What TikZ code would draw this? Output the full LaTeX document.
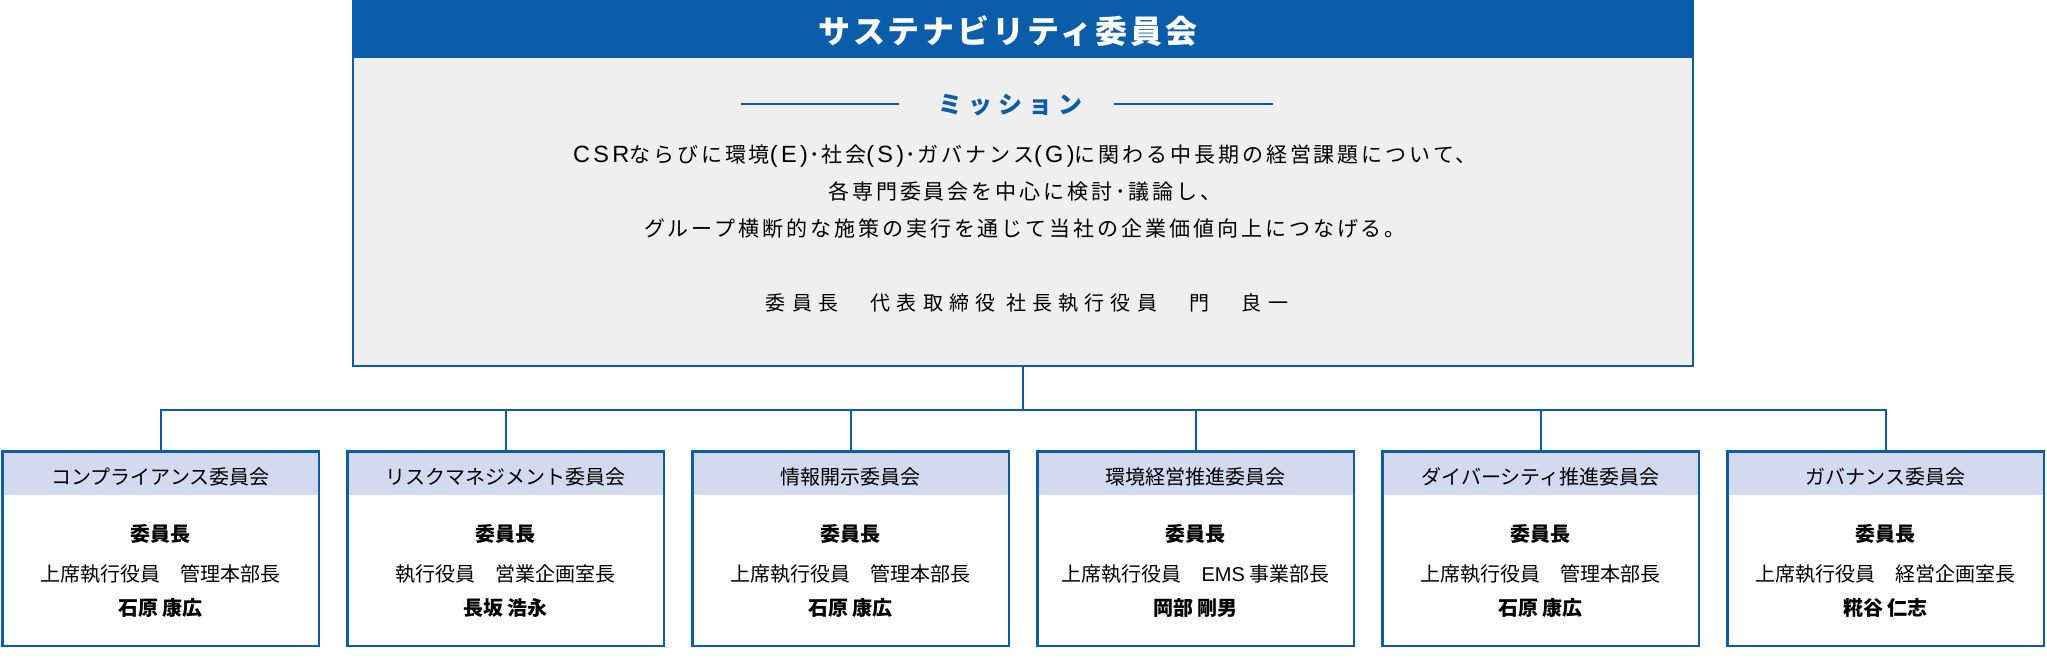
\documentclass[tikz,border=0pt]{standalone}
\usepackage{fontspec}
\setmainfont{Noto Sans CJK JP}
\newfontfamily\lat{Liberation Sans}
\definecolor{hdblue}{HTML}{0C5DA9}
\definecolor{lav}{HTML}{D3D9EE}
\definecolor{bodygray}{HTML}{EFEFEF}
\newcommand\ttlfont{\fontsize{32}{32}\selectfont\bfseries\addfontfeature{LetterSpace=9}}
\newcommand\misfont{\fontsize{24}{24}\selectfont\bfseries\addfontfeature{LetterSpace=25}}
\newcommand\bodyfont{\fontsize{21}{21}\selectfont\addfontfeature{LetterSpace=14}}
\newcommand\chairfont{\fontsize{20}{20}\selectfont\addfontfeature{LetterSpace=31}}
\newcommand\subfont{\fontsize{20}{20}\selectfont}
\newcommand\lt[1]{{\lat\fontsize{23.5}{23.5}\selectfont\addfontfeature{LetterSpace=14}#1}}
\newcommand\md{\hspace{1.5pt}･\hspace{1.5pt}}
\begin{document}
\begin{tikzpicture}[x=1pt,y=-1pt,
  topbox/.style={draw=hdblue,line width=2pt,fill=bodygray,minimum width=1340pt,minimum height=365pt,inner sep=0pt,
    path picture={\fill[hdblue] (path picture bounding box.north west) rectangle ([yshift=-57pt]path picture bounding box.north east);}},
  subbox/.style={draw=hdblue,line width=2.5pt,fill=white,minimum width=316.5pt,minimum height=194.5pt,inner sep=0pt,
    path picture={\fill[lav] (path picture bounding box.north west) rectangle ([yshift=-44pt]path picture bounding box.north east);}},
  txt/.style={anchor=base,inner sep=0pt},
  conn/.style={draw=hdblue,line width=2pt},
  misline/.style={draw=hdblue,line width=2pt}]
\useasboundingbox (0,0) rectangle (2047,661);
\node[topbox] (top) at (1023,183.5) {};
\node[txt,text=white] (title) at (1008,44) {\ttlfont サステナビリティ委員会};
\node[txt,text=hdblue] (mission) at (1010,113) {\misfont ミッション};
\coordinate (ml1) at (741,104); \coordinate (ml2) at (899,104);
\coordinate (mr1) at (1114,104); \coordinate (mr2) at (1273,104);
\draw[misline] (ml1) -- (ml2);
\draw[misline] (mr1) -- (mr2);
\node[txt] (l1) at (1025,162) {\bodyfont \lt{CSR}ならびに環境\lt{(E)}\md 社会\lt{(S)}\md ガバナンス\lt{(G)}に関わる中長期の経営課題について、};
\node[txt] (l2) at (1025,199) {\bodyfont 各専門委員会を中心に検討･議論し、};
\node[txt] (l3) at (1025,236) {\bodyfont グループ横断的な施策の実行を通じて当社の企業価値向上につなげる。};
\node[txt] (chair) at (1027,310) {\chairfont 委員長　代表取締役 社長執行役員　門　良一};
\foreach \i/\x/\hd/\role/\who in {
  1/160.5/コンプライアンス委員会/上席執行役員　管理本部長/石原 康広,
  2/505.5/リスクマネジメント委員会/執行役員　営業企画室長/長坂 浩永,
  3/850.5/情報開示委員会/上席執行役員　管理本部長/石原 康広,
  4/1195.5/環境経営推進委員会/上席執行役員　{\lat EMS} 事業部長/岡部 剛男,
  5/1540.5/ダイバーシティ推進委員会/上席執行役員　管理本部長/石原 康広,
  6/1885.5/ガバナンス委員会/上席執行役員　経営企画室長/糀谷 仁志}{
  \node[subbox] (b\i) at (\x,548.5) {};
  \node[txt] (h\i) at (\x,484) {\subfont \hd};
  \node[txt] (c\i) at (\x,541) {\subfont\bfseries 委員長};
  \node[txt] (r\i) at (\x,581) {\subfont \role};
  \node[txt] (n\i) at (\x,615) {\subfont\bfseries \who};
}
\coordinate (bus) at (0,410);
\draw[conn] (top.south) -- (top.south |- bus);
\draw[conn] (b1.north) |- (top.south |- bus) -| (b6.north);
\foreach \i in {2,3,4,5}{\draw[conn] (b\i.north) -- (b\i.north |- bus);}
\end{tikzpicture}
\end{document}
